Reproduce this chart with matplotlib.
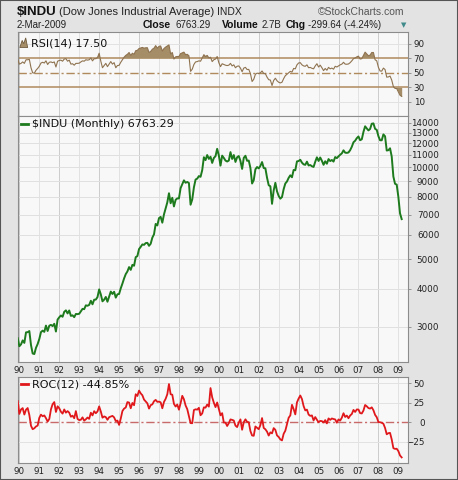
import numpy as np
import matplotlib.pyplot as plt
from matplotlib.patches import Polygon, Rectangle

# monthly closes, Dec 1989 .. Mar 2009
dow_close = [
    2753.20,
    2590.54, 2627.25, 2707.21, 2656.76, 2876.66, 2880.69, 2905.20, 2614.36, 2452.48, 2442.33, 2559.65, 2633.66,
    2736.39, 2882.18, 2913.86, 2887.87, 3027.50, 2906.75, 3024.82, 3043.60, 3016.77, 3069.10, 2894.68, 3168.83,
    3223.39, 3267.67, 3235.47, 3359.12, 3396.88, 3318.52, 3393.78, 3257.35, 3271.66, 3226.28, 3305.16, 3301.11,
    3310.03, 3370.81, 3435.11, 3427.55, 3527.43, 3516.08, 3539.47, 3651.25, 3555.12, 3680.59, 3683.95, 3754.09,
    3978.36, 3832.02, 3635.96, 3681.69, 3758.37, 3624.96, 3764.50, 3913.42, 3843.19, 3908.12, 3739.23, 3834.44,
    3843.86, 4011.05, 4157.69, 4321.27, 4465.14, 4556.10, 4708.47, 4610.56, 4789.08, 4755.48, 5074.49, 5117.12,
    5395.30, 5485.62, 5587.14, 5569.08, 5643.18, 5654.63, 5528.91, 5616.21, 5882.17, 6029.38, 6521.70, 6448.27,
    6813.09, 6877.74, 6583.48, 7008.99, 7331.04, 7672.79, 8222.61, 7622.42, 7945.26, 7442.08, 7823.13, 7908.25,
    7906.50, 8545.72, 8799.81, 9063.37, 8899.95, 8952.02, 8883.29, 7539.07, 7842.62, 8592.10, 9116.55, 9181.43,
    9358.83, 9306.58, 9786.16, 10789.04, 10559.74, 10970.80, 10655.15, 10829.28, 10336.95, 10729.94, 10877.81, 11497.12,
    10940.53, 10128.31, 10921.92, 10733.91, 10522.33, 10447.89, 10521.98, 11215.10, 10650.92, 10971.14, 10414.49, 10786.85,
    10887.36, 10495.28, 9878.78, 10734.97, 10911.94, 10502.40, 10522.81, 9949.75, 8847.56, 9075.14, 9851.56, 10021.50,
    9920.00, 10106.13, 10403.94, 9946.22, 9925.25, 9243.26, 8736.59, 8663.50, 7591.93, 8397.03, 8896.09, 8341.63,
    8053.81, 7891.08, 7992.13, 8480.09, 8850.26, 8985.44, 9233.80, 9415.82, 9275.06, 9801.12, 9782.46, 10453.92,
    10488.07, 10583.92, 10357.70, 10225.57, 10188.45, 10435.48, 10139.71, 10173.92, 10080.27, 10027.47, 10428.02, 10783.01,
    10489.94, 10766.23, 10503.76, 10192.51, 10467.48, 10274.97, 10640.91, 10481.60, 10568.70, 10440.07, 10805.87, 10717.50,
    10864.86, 10993.41, 11109.32, 11367.14, 11168.31, 11150.22, 11185.68, 11381.15, 11679.07, 12080.73, 12221.93, 12463.15,
    12621.69, 12268.63, 12354.35, 13062.91, 13627.64, 13408.62, 13211.99, 13357.74, 13895.63, 13930.01, 13371.72, 13264.82,
    12650.36, 12266.39, 12262.89, 12820.13, 12638.32, 11350.01, 11378.02, 11543.55, 10850.66, 9325.01, 8829.04, 8776.39,
    8000.86, 7062.93, 6763.29,
]

rsi14 = [
    68.6,
    62, 63, 65, 63, 68, 68, 68.5, 57, 50, 49.5, 53.5, 56,
    59, 63.5, 64.5, 63.5, 66.5, 61.5, 64.5, 65, 64, 65, 58, 66,
    67, 67.5, 66, 69, 69.5, 66, 67.5, 62, 62.5, 60.5, 63, 63,
    63.3, 65, 66.5, 66, 68, 67.5, 68, 70.5, 66.5, 69.5, 69.5, 71,
    77, 66, 57, 60, 63, 58.5, 62, 65.5, 62, 64, 57, 60,
    60.3, 64.5, 68, 71.5, 74, 75.5, 78, 74, 77, 75.5, 80.5, 81,
    83.5, 84.3, 85, 84, 84.5, 84.6, 78, 79.5, 82.5, 84, 87.5, 84,
    86.5, 87, 80, 83.5, 85.5, 87, 88.5, 76, 78, 69, 72, 72.5,
    72.5, 76.5, 77.5, 78.5, 75, 75.5, 73.5, 52, 55, 61.5, 65, 65.5,
    66.5, 66, 70.5, 75, 72.5, 74, 70.5, 71.5, 65.5, 68, 69, 72.5,
    64, 58.5, 62.5, 61.5, 60.5, 60, 60.5, 63, 59.5, 61, 57, 59,
    59.5, 56.5, 51.5, 56.5, 57.5, 54.5, 54.7, 49, 38, 41, 48, 49.5,
    49, 50, 52.5, 49, 48.8, 44, 40.5, 40, 32.5, 39.5, 42.5, 39,
    37, 36, 37, 42, 46, 48, 50, 52, 51, 56, 55.5, 61,
    63.5, 64, 61, 59.5, 59, 61, 57, 57.4, 56.2, 55.5, 59.5, 62.5,
    58, 60.5, 57, 53, 56, 53.5, 57.5, 55.5, 56.5, 55, 59, 58,
    59.5, 61, 62, 64.5, 62, 61.8, 62.2, 64, 66.5, 69.5, 70.5, 72,
    73, 69, 69.5, 74, 78.5, 76, 73.5, 74.5, 78, 78, 68, 66.5,
    57.5, 52.5, 52.3, 56.5, 54.5, 44, 44.3, 45.5, 40, 31, 28.5, 28.3,
    23.5, 19, 17.5,
]

roc12 = [
    27.0,
    10.6, 16.3, 18.0, 9.8, 16.0, 18.1, 9.2, -4.5, -8.9, -7.7, -5.4, -4.3,
    5.6, 9.7, 7.6, 8.7, 5.2, 0.9, 4.1, 16.4, 23.0, 25.7, 13.1, 20.3,
    17.8, 13.4, 11.0, 16.3, 12.2, 14.2, 12.2, 7.0, 8.4, 5.1, 14.2, 4.2,
    2.7, 3.2, 6.2, 2.0, 3.8, 6.0, 4.3, 12.1, 8.7, 14.1, 11.5, 13.7,
    20.2, 13.7, 5.8, 7.4, 6.5, 3.1, 6.4, 7.2, 8.1, 6.2, 1.5, 2.1,
    -3.4, 4.7, 14.3, 17.4, 18.8, 25.7, 25.1, 17.8, 24.6, 21.7, 35.7, 33.5,
    40.4, 36.8, 34.4, 28.9, 26.4, 24.1, 17.4, 21.8, 22.8, 26.8, 28.5, 26.0,
    26.3, 25.4, 17.8, 25.9, 29.9, 35.7, 48.7, 35.7, 35.1, 23.4, 20.0, 22.6,
    16.0, 24.3, 33.7, 29.3, 21.4, 16.7, 8.0, -1.1, -1.3, 15.5, 16.5, 16.1,
    18.4, 8.9, 11.2, 19.0, 18.6, 22.6, 19.9, 43.6, 31.8, 24.9, 19.3, 25.2,
    16.9, 8.8, 11.6, -0.5, -0.4, -4.8, -1.2, 3.6, 3.0, 2.2, -4.3, -6.2,
    -0.5, 3.6, -9.6, 0.0, 3.7, 0.5, 0.0, -11.3, -16.9, -17.3, -5.4, -7.1,
    -8.9, -3.7, 5.3, -7.3, -9.0, -12.0, -17.0, -12.9, -14.2, -7.5, -9.7, -16.8,
    -18.8, -21.9, -23.2, -14.7, -10.8, -2.8, 5.7, 8.7, 22.2, 16.7, 10.0, 25.3,
    30.2, 34.1, 29.6, 20.6, 15.1, 16.1, 9.8, 8.1, 8.7, 2.3, 6.6, 3.1,
    0.0, 1.7, 1.4, -0.3, 2.7, -1.5, 4.9, 3.0, 4.8, 4.1, 3.6, -0.6,
    3.6, 2.1, 5.8, 11.5, 6.7, 8.5, 5.1, 8.6, 10.5, 15.7, 13.1, 16.3,
    16.2, 11.6, 11.2, 14.9, 22.0, 20.3, 18.1, 17.4, 19.0, 15.3, 9.4, 6.4,
    0.2, 0.0, -0.7, -1.9, -7.3, -15.4, -13.9, -13.6, -21.9, -33.1, -34.0, -33.8,
    -36.8, -42.4, -44.85,
]

years = list(range(1990, 2010))
year_labels = ["%02d" % (y % 100) for y in years]
price_ticks = [3000, 4000, 5000, 6000, 7000, 8000, 9000, 10000, 11000, 12000, 13000, 14000]
rsi_ticks = [10, 30, 50, 70, 90]
roc_ticks = [-25, 0, 25, 50]

x = 1989 + 11 / 12 + np.arange(len(dow_close)) / 12
rsi = np.array(rsi14)
roc = np.array(roc12)

W, H = 458, 480
fig = plt.figure(figsize=(W / 100, H / 100), dpi=100)
fig.patch.set_facecolor('#e3e3e3')
plt.rcParams['font.family'] = 'DejaVu Sans'


def box(top, bottom, left=17.5, right=408):
    return [left / W, 1 - bottom / H, (right - left) / W, (bottom - top) / H]


ax_rsi = fig.add_axes(box(32, 116))
ax_px = fig.add_axes(box(116, 362))
ax_roc = fig.add_axes(box(377, 463))

xlim = (x[0] - 0.01, x[0] + 234.8 / 12)
tick_c = '#222222'

for ax in (ax_rsi, ax_px, ax_roc):
    ax.set_facecolor('#f8f8f8')
    ax.set_xlim(*xlim)
    for y in years:
        ax.axvline(y, color='#cccccc' if y % 2 == 0 else '#e2e2e2', lw=0.7, zorder=0)
    for s in ax.spines.values():
        s.set_color('#8c8c8c')
        s.set_linewidth(0.8)
    ax.yaxis.tick_right()
    ax.tick_params(axis='y', length=2, width=0.6, color='#888888', labelsize=6.3, labelcolor=tick_c)
    ax.set_xticks(years)
    ax.set_xticklabels(year_labels)
    ax.tick_params(axis='x', length=0, labelsize=6.3, labelcolor=tick_c, pad=3)

# RSI panel
rsi_c = '#8f7350'
ax_rsi.set_ylim(-9.6, 106.3)
for v in (10, 90):
    ax_rsi.axhline(v, color='#e2e2e2', lw=0.7, zorder=0)
ax_rsi.axhline(70, color='#b08a5c', lw=1.1, zorder=1)
ax_rsi.axhline(30, color='#b08a5c', lw=1.1, zorder=1)
ax_rsi.axhline(50, color='#b08a5c', lw=1.0, ls=(0, (6, 2, 1.5, 2)), zorder=1)
ax_rsi.fill_between(x, rsi, 70, where=rsi >= 70, interpolate=True, color='#a58d68', lw=0, zorder=2)
ax_rsi.fill_between(x, rsi, 30, where=rsi <= 30, interpolate=True, color='#a58d68', lw=0, zorder=2)
ax_rsi.plot(x, rsi, color=rsi_c, lw=0.8, zorder=3)
ax_rsi.set_yticks(rsi_ticks)
ax_rsi.tick_params(axis='x', labelbottom=False)
ax_rsi.tick_params(axis='y', pad=10)
for lbl in ax_rsi.get_yticklabels():
    lbl.set_horizontalalignment('right')
ax_rsi.add_patch(Polygon([[0.006, 0.815], [0.012, 0.9], [0.016, 0.86], [0.021, 0.93],
                          [0.026, 0.815]], closed=True, transform=ax_rsi.transAxes,
                         facecolor='#a58d68', edgecolor='#6f5a3c', lw=0.6, zorder=5))
ax_rsi.text(0.034, 0.865, "RSI(14) 17.50", transform=ax_rsi.transAxes, fontsize=8,
            va='center', ha='left', color='#111111', zorder=5)

# price panel
ax_px.set_yscale('log')
ax_px.set_ylim(2300, 14730)
for v in price_ticks:
    ax_px.axhline(v, color='#e0e0e0', lw=0.7, zorder=0)
ax_px.plot(x, dow_close, color='#1d7a1d', lw=1.4, zorder=3)
ax_px.set_yticks(price_ticks)
ax_px.set_yticklabels([str(v) for v in price_ticks])
ax_px.yaxis.set_minor_locator(plt.NullLocator())
ax_px.tick_params(axis='y', pad=20.5)
for lbl in ax_px.get_yticklabels():
    lbl.set_horizontalalignment('right')
ax_px.plot([0.008, 0.026], [0.968, 0.968], transform=ax_px.transAxes, color='#1d7a1d', lw=2, zorder=5)
ax_px.text(0.036, 0.968, "$INDU (Monthly) 6763.29", transform=ax_px.transAxes, fontsize=8,
           va='center', ha='left', color='#111111', zorder=5)

# ROC panel
ax_roc.set_ylim(-52, 57.7)
for v in (-25, 25, 50):
    ax_roc.axhline(v, color='#e2e2e2', lw=0.7, zorder=0)
ax_roc.axhline(0, color='#c86a6a', lw=1.0, ls=(0, (6, 2, 1.5, 2)), zorder=1)
ax_roc.plot(x, roc, color='#e0181c', lw=1.3, zorder=3)
ax_roc.set_yticks(roc_ticks)
ax_roc.tick_params(axis='y', pad=10)
for lbl in ax_roc.get_yticklabels():
    lbl.set_horizontalalignment('right')
ax_roc.plot([0.008, 0.026], [0.915, 0.915], transform=ax_roc.transAxes, color='#e0181c', lw=2, zorder=5)
ax_roc.text(0.036, 0.915, "ROC(12) -44.85%", transform=ax_roc.transAxes, fontsize=8,
            va='center', ha='left', color='#111111', zorder=5)


# header
def head(px, py, s, **kw):
    fig.text(px / W, 1 - py / H, s, va='center', ha='left', family='Liberation Sans', **kw)


head(17, 11.7, "$INDU", fontsize=9.5, fontweight='bold', color='#111111')
head(59, 12.2, "(Dow Jones Industrial Average)", fontsize=8, color='#222222')
head(217, 12.2, "INDX", fontsize=7.5, color='#222222')
head(318, 11.7, "\u00a9StockCharts.com", fontsize=7.5, color='#555555')
head(17, 24.5, "2-Mar-2009", fontsize=7, color='#222222')
head(143, 24.5, "Close", fontsize=7.5, fontweight='bold', color='#111111')
head(175, 24.5, "6763.29", fontsize=7, color='#222222')
head(222, 24.5, "Volume", fontsize=7.5, fontweight='bold', color='#111111')
head(262, 24.5, "2.7B", fontsize=7, color='#222222')
head(286, 24.5, "Chg", fontsize=7.5, fontweight='bold', color='#111111')
head(308, 24.5, "-299.64 (-4.24%)", fontsize=7, color='#222222')
fig.text(401 / W, 1 - 25 / H, "\u25bc", fontsize=5, color='#3f8a8a', va='center', ha='left')

fig.add_artist(Rectangle((0, 0), 1, 1, transform=fig.transFigure, fill=False,
                         edgecolor='#555555', lw=1.5))

fig.savefig('out.png', dpi=100, facecolor=fig.get_facecolor())
